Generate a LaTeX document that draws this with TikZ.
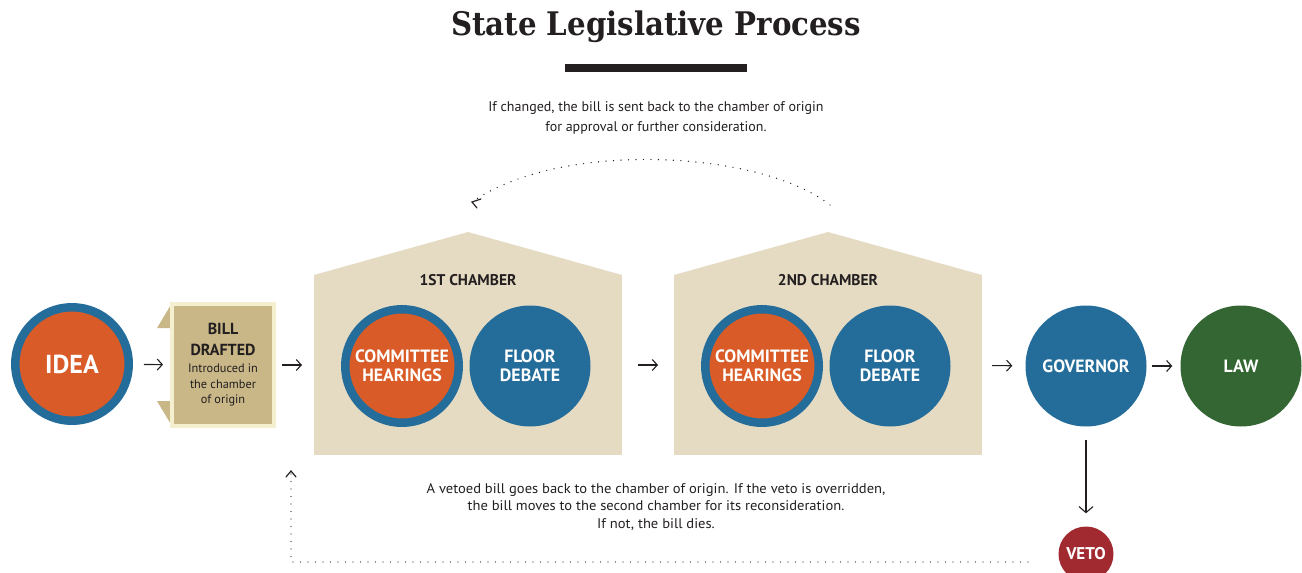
\documentclass[tikz,border=0pt]{standalone}
\usepackage{fontspec}
\setmainfont{PT Sans}
\newfontfamily\titlefont{DejaVu Serif}[FakeStretch=0.9]
\newfontfamily\condfont{PT Sans}[FakeStretch=1.04]
\newfontfamily\capfont{PT Sans}
\usetikzlibrary{arrows.meta}
\definecolor{ink}{HTML}{231F20}
\definecolor{corange}{HTML}{D95B27}
\definecolor{cblue}{HTML}{246D9A}
\definecolor{ctan}{HTML}{C9B787}
\definecolor{cpale}{HTML}{F4EFCF}
\definecolor{cwall}{HTML}{E5DBC3}
\definecolor{cgreen}{HTML}{336633}
\definecolor{cred}{HTML}{A12A31}
\tikzset{
  ring/.style={circle, draw=cblue, line width=8.5pt, fill=corange, minimum size=113.5pt, inner sep=0pt, text=white, align=center, font=\bfseries\fontsize{17.8}{19}\selectfont},
  disc/.style={circle, fill=#1, minimum size=121pt, inner sep=0pt, text=white, align=center, font=\bfseries\fontsize{17.8}{19}\selectfont},
  wall/.style={rectangle, fill=cwall, minimum width=308pt, minimum height=180pt, inner sep=0pt, outer sep=0pt},
  flow/.style={ink, line width=1.1pt, -{Straight Barb[length=5pt,width=11pt,line width=1.1pt]}},
  dots/.style={ink, line width=1.4pt, line cap=round, dash pattern=on 0pt off 7.5pt},
  chlabel/.style={font=\bfseries\fontsize{15.5}{17}\selectfont, text=ink},
}
\begin{document}
\begin{tikzpicture}[x=1pt,y=-1pt]
\useasboundingbox (0,0) rectangle (1302,573);
% title
\node[font=\titlefont\bfseries\fontsize{32.5}{36}\selectfont, text=ink] (title) at (656,27) {State Legislative Process};
\fill[ink] (565,64) rectangle (747,72);
% top caption
\node[font=\capfont\fontsize{14}{20}\selectfont, text=ink, align=center] (topcap) at (656,118) {If changed, the bill is sent back to the chamber of origin\\for approval or further consideration.};
% idea
\node[ring, font=\bfseries\fontsize{26}{28}\selectfont] (idea) at (72,364) {IDEA};
% bill drafted flaps
\fill[ctan] (172,303) -- (157,328) -- (175,328) -- cycle;
\fill[ctan] (157,401) -- (175,401) -- (172,426) -- cycle;
\node[rectangle, fill=ctan, draw=cpale, line width=4pt, minimum width=102pt, minimum height=122pt, inner sep=0pt, align=center, text=ink, font=\fontsize{12}{15.5}\selectfont] (bill) at (223,365)
  {{\bfseries\fontsize{16}{15.5}\selectfont BILL}\\[5.5pt]{\bfseries\fontsize{16}{15.5}\selectfont DRAFTED}\\[1.5pt]{\fontsize{12.3}{15.5}\selectfont Introduced in}\\{\fontsize{12.3}{15.5}\selectfont the chamber}\\{\fontsize{12.3}{15.5}\selectfont of origin}};
% chambers
\node[wall] (ch1) at (468,365) {};
\fill[cwall] (ch1.north west) -- (468,232) -- (ch1.north east) -- cycle;
\node[chlabel] (ch1lab) at (468,280) {1ST CHAMBER};
\node[ring] (com1) at (402,366) {COMMITTEE\\HEARINGS};
\node[disc=cblue] (flo1) at (530,366) {FLOOR\\DEBATE};
\node[wall] (ch2) at (828,365) {};
\fill[cwall] (ch2.north west) -- (828,232) -- (ch2.north east) -- cycle;
\node[chlabel] (ch2lab) at (828,280) {2ND CHAMBER};
\node[ring] (com2) at (762,366) {COMMITTEE\\HEARINGS};
\node[disc=cblue] (flo2) at (890,366) {FLOOR\\DEBATE};
% governor, law, veto
\node[disc=cblue] (gov) at (1086,366) {GOVERNOR};
\node[disc=cgreen] (law) at (1241,366) {LAW};
\node[circle, fill=cred, minimum size=55pt, inner sep=0pt, text=white, font=\bfseries\fontsize{17}{18}\selectfont] (veto) at (1086,554) {VETO};
% main flow arrows
\draw[flow, shorten <=11pt, shorten >=7pt] (idea) -- (bill);
\draw[flow, shorten <=6pt, shorten >=12pt] (bill.east |- ch1.west) -- (ch1.west);
\draw[flow, shorten <=16pt, shorten >=16pt] (ch1) -- (ch2);
\draw[flow, shorten <=10pt, shorten >=13pt] (ch2) -- (gov);
\draw[flow, shorten <=5pt, shorten >=8pt] (gov) -- (law);
\draw[ink, line width=1.1pt, -{Straight Barb[length=6pt,width=14pt,line width=1.1pt]}, shorten <=13pt, shorten >=13pt] (gov) -- (veto);
% return loops
\coordinate (arcS) at (830,205);
\coordinate (arcE) at (472,202);
\draw[dots] (arcS) .. controls (760,150) and (560,140) .. (arcE);
\draw[ink, line width=1.2pt, line cap=round] ([shift={(9,-3)}]arcE) -- (arcE) -- ([shift={(5,6)}]arcE);
\coordinate (vs) at (1028,562);
\coordinate (corner) at (291,562);
\coordinate (ret) at (291,471);
\draw[dots] (vs) -- (corner) -- ([yshift=4pt]ret);
\draw[ink, line width=1.2pt, line cap=round] ([shift={(-5,6)}]ret) -- (ret) -- ([shift={(5,6)}]ret);
% bottom caption
\node[font=\condfont\fontsize{14}{17.5}\selectfont, text=ink, align=center] (botcap) at (656,507) {A vetoed bill goes back to the chamber of origin. If the veto is overridden,\\the bill moves to the second chamber for its reconsideration.\\If not, the bill dies.};
\end{tikzpicture}
\end{document}
